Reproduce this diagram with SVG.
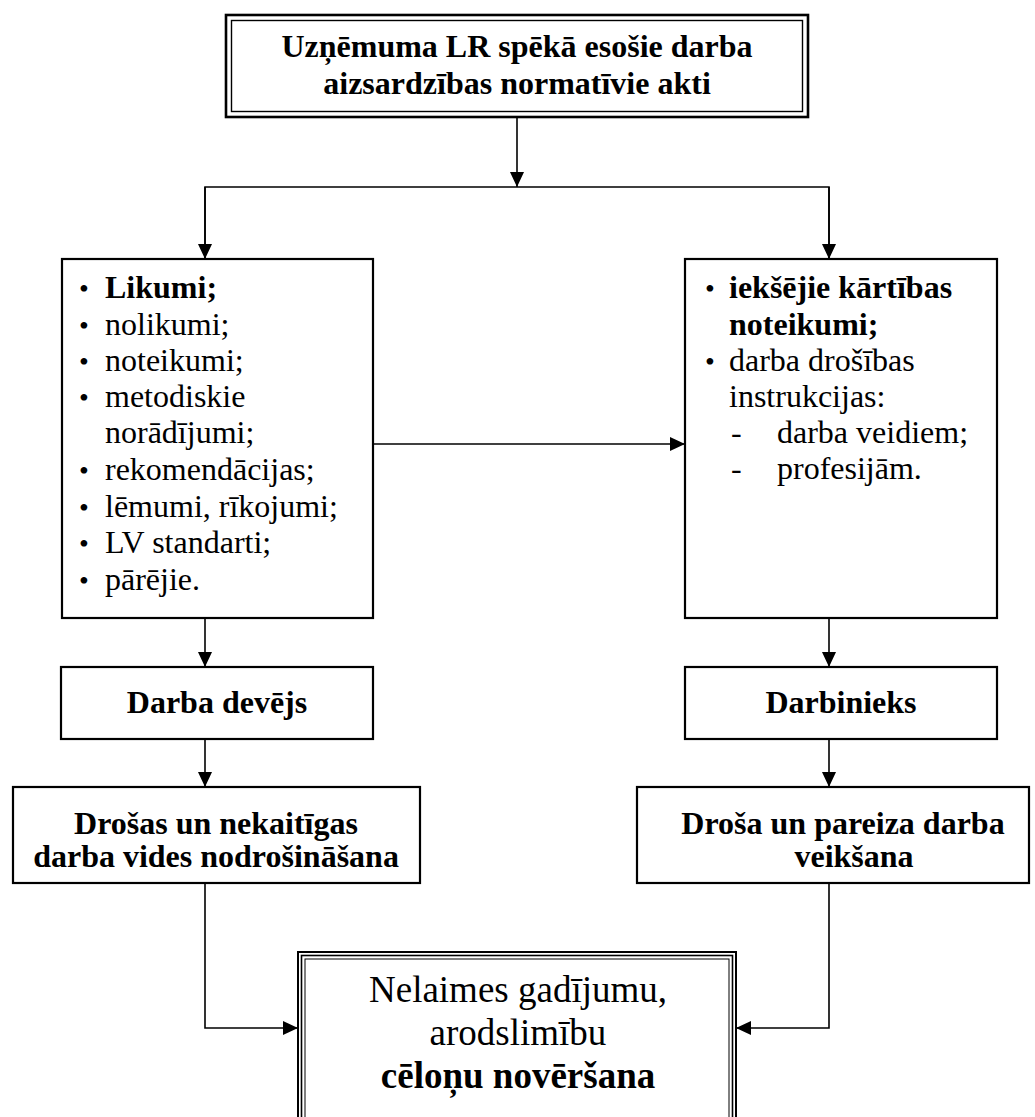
<svg xmlns="http://www.w3.org/2000/svg" width="1035" height="1117" viewBox="0 0 1035 1117">
<defs>
<marker id="arr" viewBox="0 0 15 14" refX="15" refY="7" markerWidth="15" markerHeight="14" markerUnits="userSpaceOnUse" orient="auto">
<path d="M0,0 L15,7 L0,14 z" fill="#000"/>
</marker>
<style>
.box{fill:#fff;stroke:#000;stroke-width:2.2}
.t{font-family:"Liberation Serif","Times New Roman",serif;font-size:32px;fill:#000}
.b{font-weight:bold}
.c{text-anchor:middle}
.bul{font-family:"Liberation Serif","Times New Roman",serif;font-size:28px;fill:#000;text-anchor:middle}
.con{fill:none;stroke:#000;stroke-width:1.6}
</style>
</defs>
<rect width="1035" height="1117" fill="#fff"/>

<g id="connectors">
<line class="con" x1="517" y1="117" x2="517" y2="187" marker-end="url(#arr)"/>
<path class="con" d="M205,259 V187 H829 V259"/>
<line class="con" x1="205" y1="187" x2="205" y2="259" marker-end="url(#arr)"/>
<line class="con" x1="829" y1="187" x2="829" y2="259" marker-end="url(#arr)"/>
<line class="con" x1="373" y1="444" x2="685" y2="444" marker-end="url(#arr)"/>
<line class="con" x1="205" y1="618" x2="205" y2="667" marker-end="url(#arr)"/>
<line class="con" x1="829" y1="618" x2="829" y2="667" marker-end="url(#arr)"/>
<line class="con" x1="205" y1="739" x2="205" y2="787" marker-end="url(#arr)"/>
<line class="con" x1="829" y1="739" x2="829" y2="787" marker-end="url(#arr)"/>
<path class="con" d="M205,883 V1028 H298" marker-end="url(#arr)"/>
<path class="con" d="M829,883 V1028 H736" marker-end="url(#arr)"/>
</g>

<g id="top">
<rect x="226" y="15" width="582" height="102" fill="#fff" stroke="#000" stroke-width="2.6"/>
<rect x="231.5" y="20.5" width="571" height="91" fill="none" stroke="#000" stroke-width="1.4"/>
<text class="t b c" x="517" y="57">Uzņēmuma LR spēkā esošie darba</text>
<text class="t b c" x="517" y="94">aizsardzības normatīvie akti</text>
</g>

<g id="left-list">
<rect class="box" x="62" y="259" width="311" height="359"/>
<text class="bul" x="84" y="298">•</text>
<text class="t b" x="105" y="298">Likumi;</text>
<text class="bul" x="84" y="335">•</text>
<text class="t" x="105" y="335">nolikumi;</text>
<text class="bul" x="84" y="371">•</text>
<text class="t" x="105" y="371">noteikumi;</text>
<text class="bul" x="84" y="407">•</text>
<text class="t" x="105" y="407">metodiskie</text>
<text class="t" x="105" y="443">norādījumi;</text>
<text class="bul" x="84" y="480">•</text>
<text class="t" x="105" y="480">rekomendācijas;</text>
<text class="bul" x="84" y="517">•</text>
<text class="t" x="105" y="517">lēmumi, rīkojumi;</text>
<text class="bul" x="84" y="553">•</text>
<text class="t" x="105" y="553">LV standarti;</text>
<text class="bul" x="84" y="590">•</text>
<text class="t" x="105" y="590">pārējie.</text>
</g>

<g id="right-list">
<rect class="box" x="685" y="259" width="312" height="359"/>
<text class="bul" x="710" y="298">•</text>
<text class="t b" x="729" y="298">iekšējie kārtības</text>
<text class="t b" x="729" y="335">noteikumi;</text>
<text class="bul" x="710" y="371">•</text>
<text class="t" x="729" y="371">darba drošības</text>
<text class="t" x="729" y="407">instrukcijas:</text>
<text class="t" x="731" y="443">-</text>
<text class="t" x="777" y="443">darba veidiem;</text>
<text class="t" x="731" y="479">-</text>
<text class="t" x="777" y="479">profesijām.</text>
</g>

<g id="employer">
<rect class="box" x="61" y="667" width="312" height="72"/>
<text class="t b c" x="217" y="713">Darba devējs</text>
</g>

<g id="employee">
<rect class="box" x="685" y="667" width="312" height="72"/>
<text class="t b c" x="841" y="713">Darbinieks</text>
</g>

<g id="employer-task">
<rect class="box" x="13" y="787" width="407" height="96"/>
<text class="t b c" x="216" y="834">Drošas un nekaitīgas</text>
<text class="t b c" x="216" y="867">darba vides nodrošināšana</text>
</g>

<g id="employee-task">
<rect class="box" x="637" y="787" width="392" height="96"/>
<text class="t b c" x="843" y="834">Droša un pareiza darba</text>
<text class="t b c" x="854" y="867">veikšana</text>
</g>

<g id="result">
<rect x="298" y="952" width="438" height="200" fill="#fff" stroke="#000" stroke-width="2"/>
<rect x="301.5" y="955.5" width="431" height="200" fill="none" stroke="#000" stroke-width="1.6"/>
<rect x="305" y="959" width="424" height="200" fill="none" stroke="#000" stroke-width="1"/>
<text class="t c" x="518" y="1002" style="font-size:37px">Nelaimes gadījumu,</text>
<text class="t c" x="518" y="1045" style="font-size:37px">arodslimību</text>
<text class="t b c" x="518" y="1088" style="font-size:37px">cēloņu novēršana</text>
</g>
</svg>
